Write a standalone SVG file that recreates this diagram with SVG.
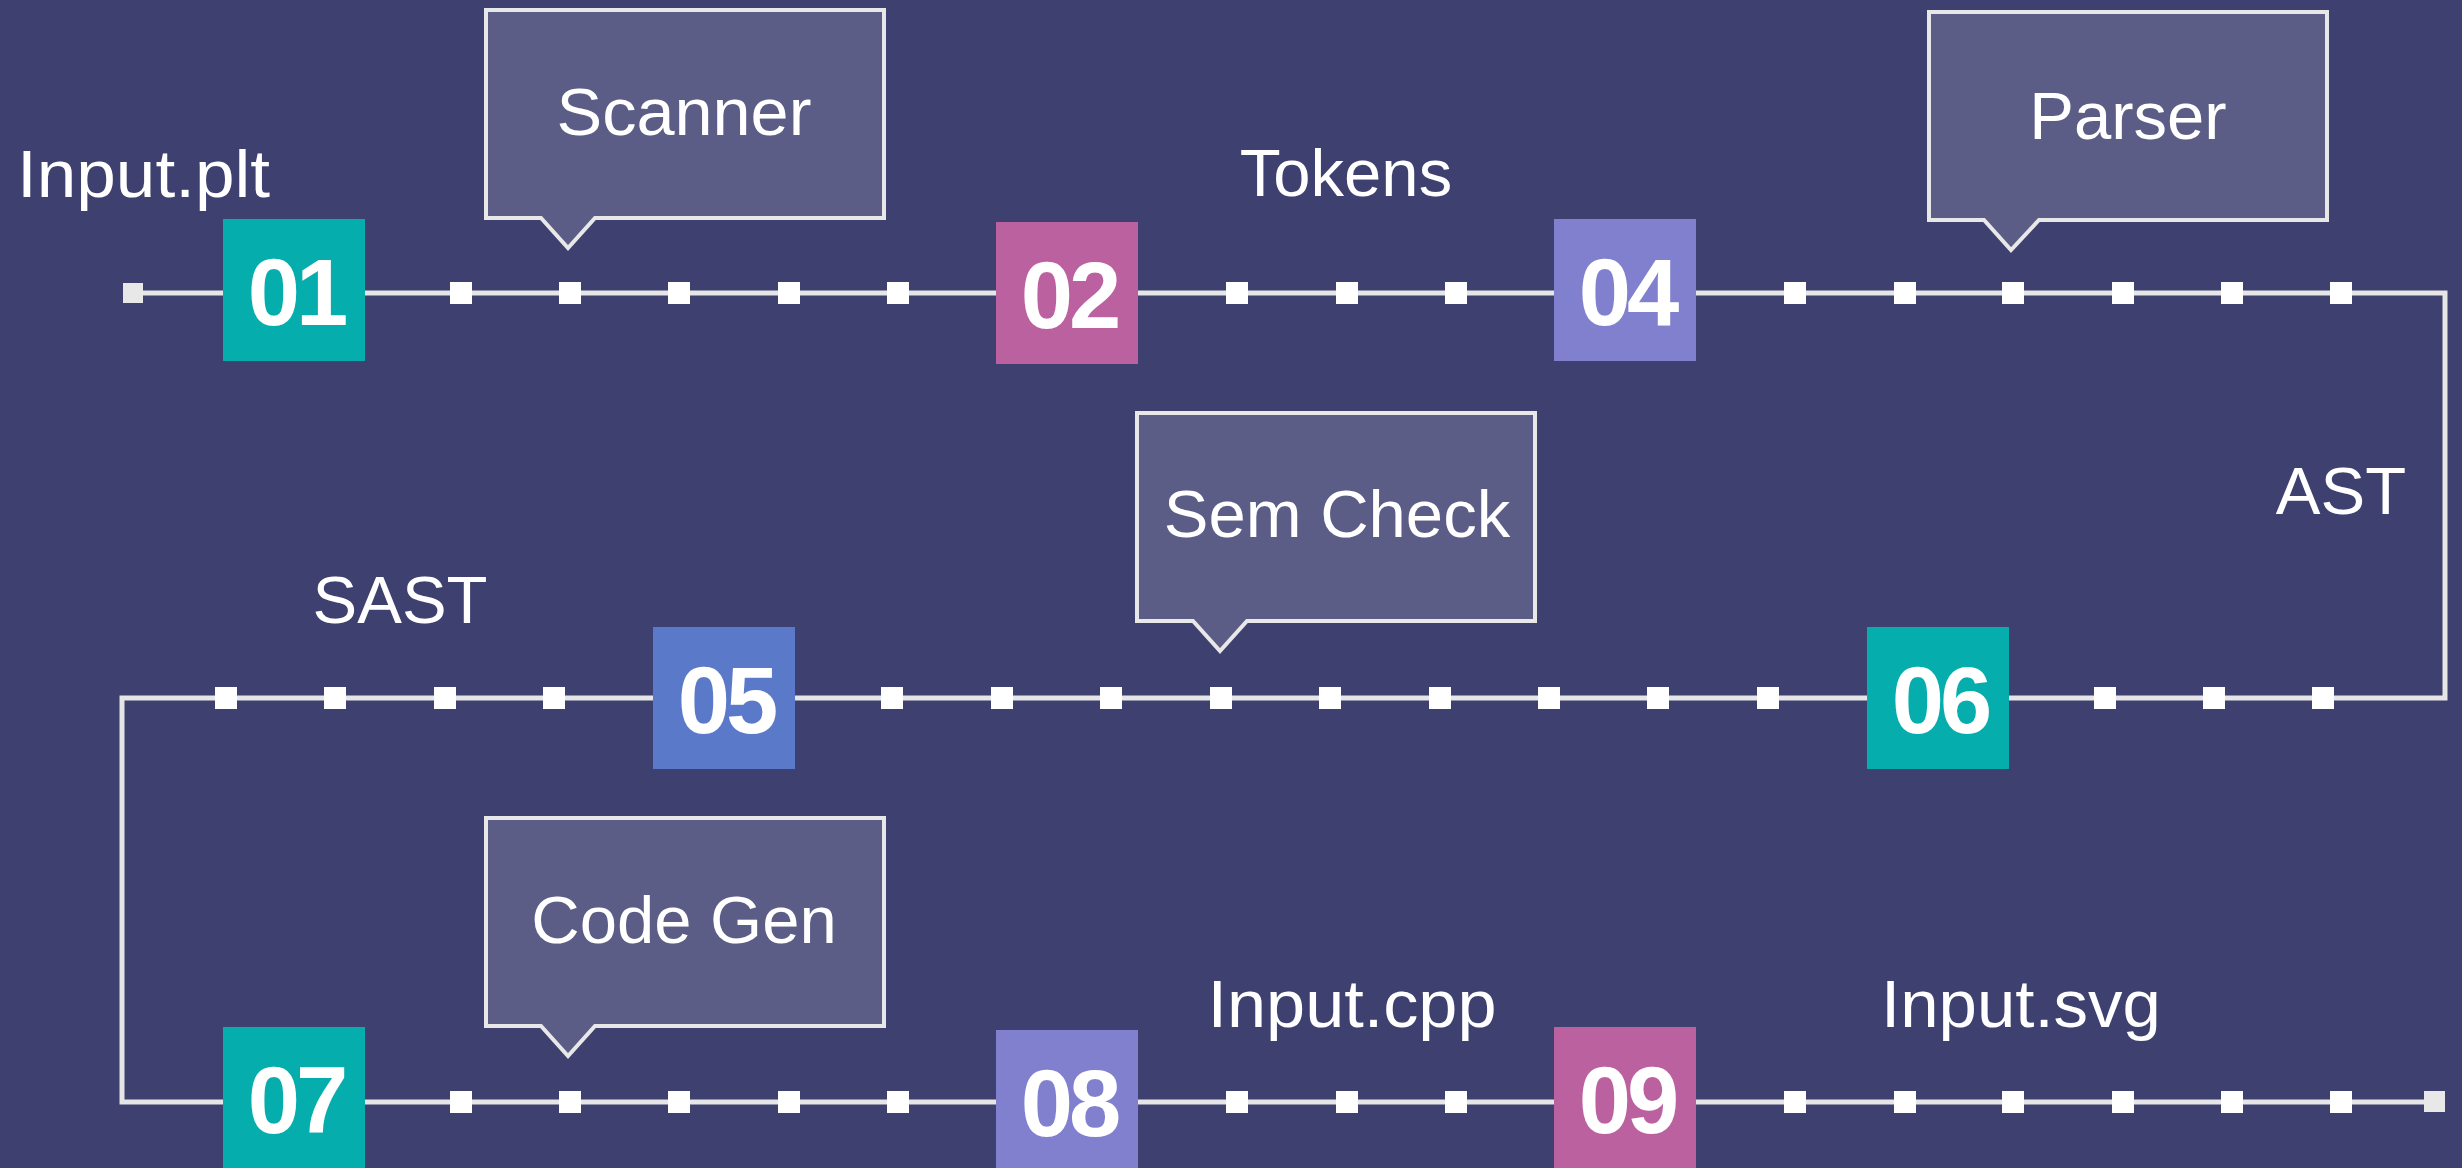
<svg xmlns="http://www.w3.org/2000/svg" width="2462" height="1168" viewBox="0 0 2462 1168">
<defs>
<style>
.bg{fill:#3e406f}
.wire{fill:none;stroke:#e6e6e6;stroke-width:5}
.tick{fill:#ffffff}
.endpt{fill:#e8e8e8}
.call{fill:#5b5d86;stroke:#e8e8e8;stroke-width:4}
.ctext{font-family:"Liberation Sans",Arial,sans-serif;font-size:67px;fill:#ffffff;text-anchor:middle}
.lbl{font-family:"Liberation Sans",Arial,sans-serif;font-size:67px;fill:#ffffff;text-anchor:middle}
.num{font-family:"Liberation Sans",Arial,sans-serif;font-size:94px;font-weight:bold;fill:#ffffff;text-anchor:middle;letter-spacing:-4px}
.teal{fill:#05aeac}
.mag{fill:#bc61a0}
.lav{fill:#8180cf}
.blue{fill:#5a79c8}
</style>
<rect id="tk" x="-11" y="-11" width="22" height="22" class="tick"/>
</defs>
<rect class="bg" x="0" y="0" width="2462" height="1168"/>

<g id="connectors">
<path class="wire" d="M133,293 H2445 V698 H122 V1102 H2435"/>
<rect class="endpt" x="123" y="283" width="20" height="20"/>
<rect class="endpt" x="2424" y="1091" width="21" height="21"/>
<g id="ticks-row1">
<use href="#tk" x="461" y="293"/><use href="#tk" x="570" y="293"/><use href="#tk" x="679" y="293"/><use href="#tk" x="789" y="293"/><use href="#tk" x="898" y="293"/>
<use href="#tk" x="1237" y="293"/><use href="#tk" x="1347" y="293"/><use href="#tk" x="1456" y="293"/>
<use href="#tk" x="1795" y="293"/><use href="#tk" x="1905" y="293"/><use href="#tk" x="2013" y="293"/><use href="#tk" x="2123" y="293"/><use href="#tk" x="2232" y="293"/><use href="#tk" x="2341" y="293"/>
</g>
<g id="ticks-row2">
<use href="#tk" x="226" y="698"/><use href="#tk" x="335" y="698"/><use href="#tk" x="445" y="698"/><use href="#tk" x="554" y="698"/>
<use href="#tk" x="892" y="698"/><use href="#tk" x="1002" y="698"/><use href="#tk" x="1111" y="698"/><use href="#tk" x="1221" y="698"/><use href="#tk" x="1330" y="698"/><use href="#tk" x="1440" y="698"/><use href="#tk" x="1549" y="698"/><use href="#tk" x="1658" y="698"/><use href="#tk" x="1768" y="698"/>
<use href="#tk" x="2105" y="698"/><use href="#tk" x="2214" y="698"/><use href="#tk" x="2323" y="698"/>
</g>
<g id="ticks-row3">
<use href="#tk" x="461" y="1102"/><use href="#tk" x="570" y="1102"/><use href="#tk" x="679" y="1102"/><use href="#tk" x="789" y="1102"/><use href="#tk" x="898" y="1102"/>
<use href="#tk" x="1237" y="1102"/><use href="#tk" x="1347" y="1102"/><use href="#tk" x="1456" y="1102"/>
<use href="#tk" x="1795" y="1102"/><use href="#tk" x="1905" y="1102"/><use href="#tk" x="2013" y="1102"/><use href="#tk" x="2123" y="1102"/><use href="#tk" x="2232" y="1102"/><use href="#tk" x="2341" y="1102"/>
</g>
</g>

<g id="step01"><rect class="teal" x="223" y="219" width="142" height="142"/><text class="num" x="296" y="325">01</text></g>
<g id="step02"><rect class="mag" x="996" y="222" width="142" height="142"/><text class="num" x="1069" y="328">02</text></g>
<g id="step04"><rect class="lav" x="1554" y="219" width="142" height="142"/><text class="num" x="1627" y="325">04</text></g>
<g id="step05"><rect class="blue" x="653" y="627" width="142" height="142"/><text class="num" x="726" y="733">05</text></g>
<g id="step06"><rect class="teal" x="1867" y="627" width="142" height="142"/><text class="num" x="1940" y="733">06</text></g>
<g id="step07"><rect class="teal" x="223" y="1027" width="142" height="142"/><text class="num" x="296" y="1133">07</text></g>
<g id="step08"><rect class="lav" x="996" y="1030" width="142" height="142"/><text class="num" x="1069" y="1136">08</text></g>
<g id="step09"><rect class="mag" x="1554" y="1027" width="142" height="142"/><text class="num" x="1627" y="1133">09</text></g>

<g id="callout-scanner">
<path class="call" d="M486,10 H884 V218 H595 L568,248 L541,218 H486 Z"/>
<text class="ctext" x="684" y="135" textLength="255" lengthAdjust="spacingAndGlyphs">Scanner</text>
</g>
<g id="callout-parser">
<path class="call" d="M1929,12 H2327 V220 H2039 L2011,250 L1984,220 H1929 Z"/>
<text class="ctext" x="2128" y="139">Parser</text>
</g>
<g id="callout-semcheck">
<path class="call" d="M1137,413 H1535 V621 H1247 L1220,651 L1193,621 H1137 Z"/>
<text class="ctext" x="1337" y="537">Sem Check</text>
</g>
<g id="callout-codegen">
<path class="call" d="M486,818 H884 V1026 H595 L568,1056 L541,1026 H486 Z"/>
<text class="ctext" x="684" y="943">Code Gen</text>
</g>

<g id="label-input-plt"><text class="lbl" x="17" y="197" style="text-anchor:start" textLength="253" lengthAdjust="spacingAndGlyphs">Input.plt</text></g>
<g id="label-tokens"><text class="lbl" x="1346" y="196">Tokens</text></g>
<g id="label-ast"><text class="lbl" x="2341" y="514">AST</text></g>
<g id="label-sast"><text class="lbl" x="400" y="623">SAST</text></g>
<g id="label-input-cpp"><text class="lbl" x="1352" y="1027" textLength="289" lengthAdjust="spacingAndGlyphs">Input.cpp</text></g>
<g id="label-input-svg"><text class="lbl" x="2021" y="1027" textLength="280" lengthAdjust="spacingAndGlyphs">Input.svg</text></g>
</svg>
